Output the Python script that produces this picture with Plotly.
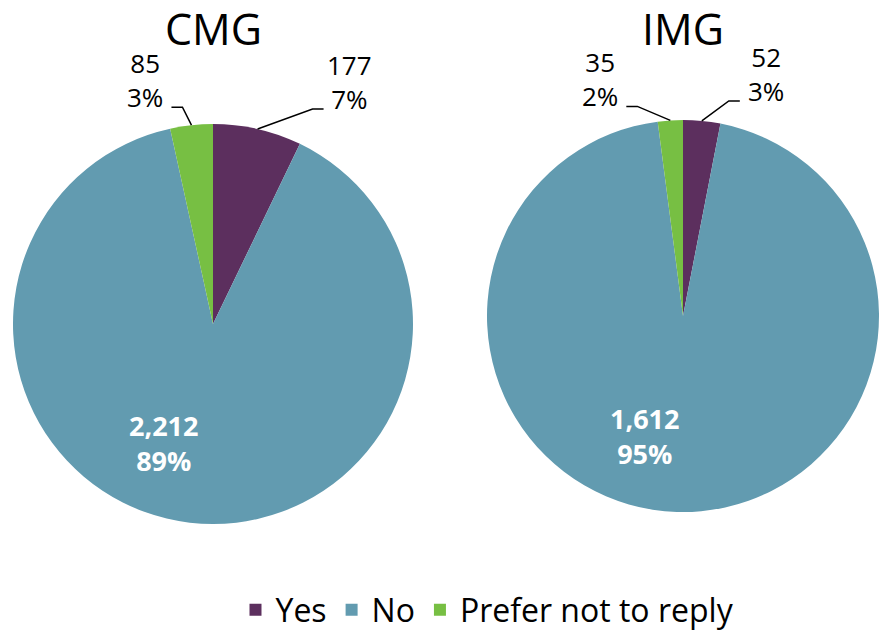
"""Two pie charts: CMG vs IMG responses"""
import math
import plotly.graph_objects as go

# data
groups = ['CMG', 'IMG']
labels = ['Yes', 'No', 'Prefer not to reply']
cmg_counts = [177, 2212, 85]
img_counts = [52, 1612, 35]

colors = ['#5C2F5E', '#629BB0', '#77BF43']
FONT = 'Open Sans'
W, H = 879, 633

# pie geometry in pixels (centre x, centre y, radius)
geom = {'CMG': (213, 324, 200), 'IMG': (683, 316, 196)}
# leader elbow offsets (px) for the small slices: {slice index: (dx, dy)}
elbows = {'CMG': {0: (55, -20), 2: (-9, -18)},
          'IMG': {0: (27, -20), 2: (-33, -14)}}


def px(x, y):
    return x / W, 1 - y / H


fig = go.Figure()
annotations = []
shapes = []

for name, counts in zip(groups, [cmg_counts, img_counts]):
    cx, cy, r = geom[name]
    x0, y1 = px(cx - r, cy - r)
    x1, y0 = px(cx + r, cy + r)
    fig.add_trace(go.Pie(
        labels=labels, values=counts, sort=False, direction='clockwise',
        rotation=0, marker=dict(colors=colors, line=dict(width=0)),
        textinfo='none', hoverinfo='label+value+percent',
        domain=dict(x=[max(x0, 0), min(x1, 1)], y=[y0, y1]),
        showlegend=(name == 'CMG'), name=name))

    # title
    tx, ty = px(cx, 29)
    annotations.append(dict(text=name, x=tx, y=ty, xref='paper', yref='paper',
                            xanchor='center', yanchor='middle', showarrow=False,
                            font=dict(family=FONT, size=43, color='black')))

    total = sum(counts)
    start = 0.0
    for i, v in enumerate(counts):
        frac = v / total
        mid = (start + frac / 2) * 360
        start += frac
        pct = f'{round(frac * 100)}%'
        if i == 1:
            # inside bold label
            a = math.radians(mid + 16)
            lx = cx + 0.645 * r * math.sin(a)
            ly = cy - 0.645 * r * math.cos(a)
            ax_, ay_ = px(lx, ly)
            annotations.append(dict(text=f'{v:,}<br>{pct}', x=ax_, y=ay_,
                                    xref='paper', yref='paper', xanchor='center',
                                    yanchor='middle', showarrow=False,
                                    font=dict(family=FONT, size=27, color='white',
                                              weight='bold')))
            continue
        a = math.radians(mid)
        ex = cx + r * math.sin(a)
        ey = cy - r * math.cos(a)
        dx, dy = elbows[name][i]
        bx, by = ex + dx, ey + dy
        side = 1 if dx > 0 else -1
        endx = bx + side * 11
        p = [px(ex, ey), px(bx, by), px(endx, by)]
        shapes.append(dict(type='path', xref='paper', yref='paper',
                           path='M {} {} L {} {} L {} {}'.format(
                               p[0][0], p[0][1], p[1][0], p[1][1], p[2][0], p[2][1]),
                           line=dict(color='black', width=1.5)))
        lx, ly = px(endx + side * 26, by + 1 + 0.293 * 26 + 1)
        annotations.append(dict(text=f'{v:,}<br>{pct}', x=lx, y=ly, xref='paper',
                                yref='paper', xanchor='center', yanchor='bottom',
                                showarrow=False,
                                font=dict(family=FONT, size=26, color='black')))

fig.update_layout(
    width=W, height=H,
    margin=dict(l=0, r=0, t=0, b=0, autoexpand=False),
    paper_bgcolor='white', plot_bgcolor='white',
    font=dict(family=FONT, color='black'),
    annotations=annotations, shapes=shapes,
    legend=dict(orientation='h', x=0.5546, xanchor='center', y=1 - 610 / H,
                yanchor='middle', font=dict(family=FONT, size=32, color='black')),
)

fig.write_html('out.html', config={'displayModeBar': False},
               post_script="document.body.style.margin='0';")
